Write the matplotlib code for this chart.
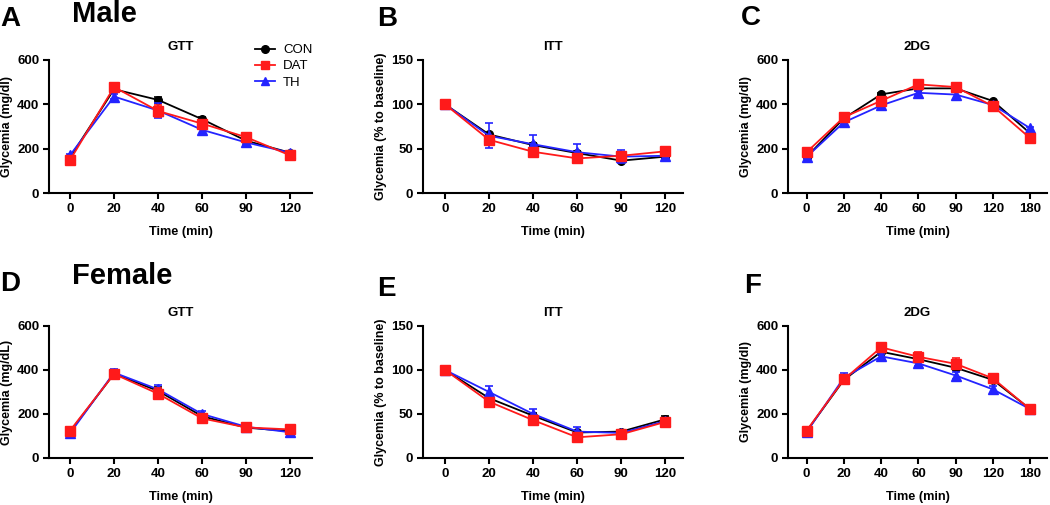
import matplotlib
matplotlib.use("Agg")
import matplotlib.pyplot as plt
from matplotlib.lines import Line2D
import numpy as np

plt.rcParams['font.family'] = ['Liberation Sans', 'DejaVu Sans']

W, H = 1050, 505

# ---------------- data ----------------
gtt_ticks = ["0", "20", "40", "60", "90", "120"]
dg_ticks = ["0", "20", "40", "60", "90", "120", "180"]

# Male GTT
a_con = [161, 468, 420, 333, 236, 182]
a_dat = [149, 478, 370, 313, 252, 170]
a_th = [171, 435, 372, 285, 228, 182]
a_con_err = [6, 8, 12, 10, 6, 5]
a_dat_err = [8, 12, 28, 15, 8, 6]
a_th_err = [6, 10, 33, 20, 10, 5]

# Male ITT
b_con = [100, 66, 54, 45, 36.5, 41]
b_dat = [100, 60, 46.5, 39, 42, 47]
b_th = [100, 64.5, 55, 46, 41, 42]
b_con_err = [0, 2, 2, 2, 2, 2]
b_dat_err = [0, 3, 2, 2, 3, 2]
b_th_err = [0, 14, 10, 9, 7, 5]

# Male 2DG
c_con = [163, 337, 445, 472, 472, 415, 269]
c_dat = [184, 342, 416, 490, 478, 392, 247]
c_th = [163, 319, 395, 452, 444, 397, 292]
c_con_err = [5, 6, 6, 8, 8, 6, 6]
c_dat_err = [8, 8, 15, 10, 10, 8, 8]
c_th_err = [5, 8, 10, 10, 20, 10, 8]

# Female GTT
d_con = [120, 383, 305, 190, 138, 122]
d_dat = [125, 382, 292, 180, 139, 130]
d_th = [113, 388, 312, 200, 142, 117]
d_con_err = [5, 15, 20, 10, 5, 5]
d_dat_err = [8, 20, 25, 12, 6, 6]
d_th_err = [5, 15, 20, 15, 6, 5]

# Female ITT
e_con = [100, 68, 48, 29, 30, 44]
e_dat = [100, 64, 43, 23.5, 27, 41]
e_th = [100, 75, 50, 30, 28.5, 42]
e_con_err = [0, 3, 3, 2, 2, 4]
e_dat_err = [0, 3, 3, 3, 3, 5]
e_th_err = [0, 7, 6, 5, 3, 4]

# Female 2DG
f_con = [122, 355, 483, 449, 410, 355, 222]
f_dat = [125, 357, 503, 460, 428, 362, 221]
f_th = [118, 365, 462, 430, 375, 312, 222]
f_con_err = [5, 10, 8, 10, 12, 10, 5]
f_dat_err = [8, 12, 12, 22, 25, 15, 6]
f_th_err = [5, 20, 10, 10, 15, 15, 5]

groups = ["CON", "DAT", "TH"]
colors = {"CON": "#000000", "DAT": "#ff1a1a", "TH": "#2424ff"}
markers = {"CON": "o", "DAT": "s", "TH": "^"}
msizes = {"CON": 5.5, "DAT": 6.5, "TH": 6.5}

fig = plt.figure(figsize=(W / 100, H / 100), dpi=100)


def ax_px(left, right, top, bottom):
    return fig.add_axes([left / W, 1 - bottom / H, (right - left) / W, (bottom - top) / H])


def draw(ax, ticks, series, errs, ymax, ystep, ylabel, title, xlim, legend=False):
    x = np.arange(len(ticks))
    order = ["CON", "TH", "DAT"]
    for g in order:
        ax.errorbar(x, series[g], yerr=errs[g], color=colors[g], marker=markers[g],
                    markersize=msizes[g], lw=1.3, capsize=3, capthick=1.2,
                    elinewidth=1.2, clip_on=False, zorder=3 + order.index(g))
    ax.set_xlim(*xlim)
    ax.set_ylim(0, ymax)
    ax.set_yticks(np.arange(0, ymax + 1, ystep))
    ax.set_xticks(x)
    ax.set_xticklabels(ticks)
    for s in ["top", "right"]:
        ax.spines[s].set_visible(False)
    for s in ["left", "bottom"]:
        ax.spines[s].set_linewidth(1.5)
    ax.tick_params(axis="both", direction="out", length=4, width=1.5, labelsize=9.5, pad=3)
    for lab in ax.get_xticklabels() + ax.get_yticklabels():
        lab.set_fontweight("bold")
    ax.set_ylabel(ylabel, fontsize=9, fontweight="bold", labelpad=3)
    ax.set_xlabel("Time (min)", fontsize=9.2, fontweight="bold", labelpad=8)
    ax.set_title(title, fontsize=9.5, fontweight="bold", pad=7)
    if legend:
        hs = [Line2D([], [], color=colors[g], marker=markers[g], markersize=5.5, lw=1.3)
              for g in groups]
        ax.legend(hs, groups, loc="upper left",
                  bbox_to_anchor=((250 - 49) / 263, 1.16), frameon=False,
                  fontsize=9.5, handlelength=1.5, labelspacing=0.3,
                  handletextpad=0.6, borderaxespad=0)


ax_a = ax_px(49, 312, 60, 193)
draw(ax_a, gtt_ticks, {"CON": a_con, "DAT": a_dat, "TH": a_th},
     {"CON": a_con_err, "DAT": a_dat_err, "TH": a_th_err}, 600, 200,
     "Glycemia (mg/dl)", "GTT", (-0.48, 5.5), legend=True)

ax_b = ax_px(423, 683, 60, 193)
draw(ax_b, gtt_ticks, {"CON": b_con, "DAT": b_dat, "TH": b_th},
     {"CON": b_con_err, "DAT": b_dat_err, "TH": b_th_err}, 150, 50,
     "Glycemia (% to baseline)", "ITT", (-0.5, 5.4))

ax_c = ax_px(788, 1047, 60, 193)
draw(ax_c, dg_ticks, {"CON": c_con, "DAT": c_dat, "TH": c_th},
     {"CON": c_con_err, "DAT": c_dat_err, "TH": c_th_err}, 600, 200,
     "Glycemia (mg/dl)", "2DG", (-0.5, 6.45))

ax_d = ax_px(49, 312, 326, 458)
draw(ax_d, gtt_ticks, {"CON": d_con, "DAT": d_dat, "TH": d_th},
     {"CON": d_con_err, "DAT": d_dat_err, "TH": d_th_err}, 600, 200,
     "Glycemia (mg/dL)", "GTT", (-0.48, 5.5))

ax_e = ax_px(423, 683, 326, 458)
draw(ax_e, gtt_ticks, {"CON": e_con, "DAT": e_dat, "TH": e_th},
     {"CON": e_con_err, "DAT": e_dat_err, "TH": e_th_err}, 150, 50,
     "Glycemia (% to baseline)", "ITT", (-0.5, 5.4))

ax_f = ax_px(788, 1047, 326, 458)
draw(ax_f, dg_ticks, {"CON": f_con, "DAT": f_dat, "TH": f_th},
     {"CON": f_con_err, "DAT": f_dat_err, "TH": f_th_err}, 600, 200,
     "Glycemia (mg/dl)", "2DG", (-0.5, 6.45))


def ftext(x, y, s, size, ha="left"):
    fig.text(x / W, 1 - y / H, s, fontsize=size, fontweight="bold", ha=ha, va="center")


ftext(0, 19, "A", 20)
ftext(72, 14, "Male", 21)
ftext(377, 19, "B", 20)
ftext(741, 18, "C", 20)
ftext(0, 284, "D", 20)
ftext(72, 276, "Female", 21)
ftext(377, 289, "E", 20)
ftext(744, 286, "F", 20)

fig.savefig("out.png", dpi=100)
